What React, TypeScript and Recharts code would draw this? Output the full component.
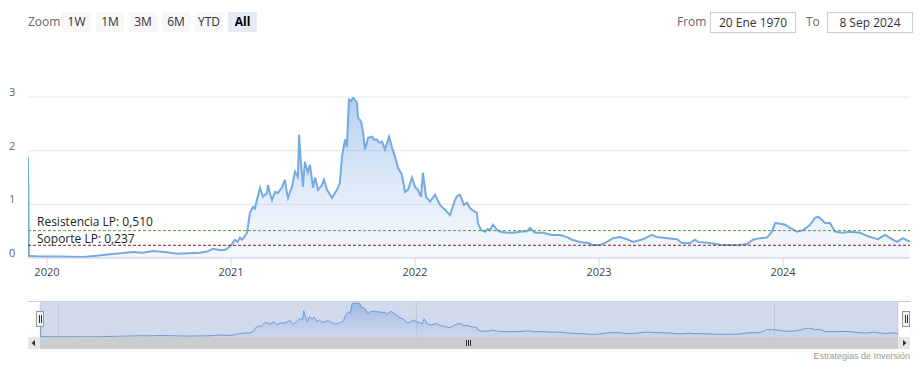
import React from "react";
import { AreaChart, Area, XAxis, YAxis, CartesianGrid, ReferenceLine } from "recharts";

const years = [
  2019.897, 2019.902, 2019.95, 2020.071, 2020.196, 2020.27, 2020.342, 2020.4, 2020.467, 2020.52,
  2020.576, 2020.64, 2020.707, 2020.77, 2020.832, 2020.87, 2020.902, 2020.94, 2020.967, 2020.99,
  2021.005, 2021.022, 2021.035, 2021.049, 2021.06, 2021.075, 2021.087, 2021.103, 2021.12, 2021.13,
  2021.141, 2021.158, 2021.166, 2021.174, 2021.196, 2021.201, 2021.212, 2021.223, 2021.239, 2021.255,
  2021.265, 2021.277, 2021.293, 2021.302, 2021.31, 2021.32, 2021.332, 2021.348, 2021.364, 2021.37,
  2021.38, 2021.391, 2021.402, 2021.418, 2021.429, 2021.446, 2021.457, 2021.473, 2021.495, 2021.505,
  2021.522, 2021.549, 2021.576, 2021.592, 2021.603, 2021.62, 2021.63, 2021.641, 2021.652, 2021.663,
  2021.674, 2021.685, 2021.69, 2021.707, 2021.717, 2021.728, 2021.745, 2021.766, 2021.78, 2021.793,
  2021.805, 2021.821, 2021.837, 2021.859, 2021.875, 2021.891, 2021.908, 2021.929, 2021.946, 2021.962,
  2021.984, 2022.0, 2022.016, 2022.033, 2022.043, 2022.06, 2022.082, 2022.109, 2022.136, 2022.163,
  2022.19, 2022.205, 2022.217, 2022.23, 2022.245, 2022.266, 2022.283, 2022.299, 2022.31, 2022.326,
  2022.337, 2022.342, 2022.359, 2022.38, 2022.395, 2022.408, 2022.424, 2022.446, 2022.462, 2022.5,
  2022.533, 2022.571, 2022.609, 2022.625, 2022.652, 2022.696, 2022.745, 2022.788, 2022.826, 2022.853,
  2022.897, 2022.94, 2022.967, 2023.005, 2023.043, 2023.076, 2023.114, 2023.152, 2023.185, 2023.239,
  2023.288, 2023.315, 2023.37, 2023.424, 2023.451, 2023.495, 2023.522, 2023.538, 2023.603, 2023.674,
  2023.75, 2023.804, 2023.837, 2023.875, 2023.913, 2023.94, 2023.957, 2023.984, 2024.011, 2024.038,
  2024.076, 2024.109, 2024.147, 2024.174, 2024.19, 2024.212, 2024.228, 2024.255, 2024.283, 2024.321,
  2024.364, 2024.418, 2024.473, 2024.516, 2024.554, 2024.592, 2024.62, 2024.652, 2024.69,
];

const prices = [
  1.88, 0.04, 0.03, 0.03, 0.02, 0.04, 0.07, 0.09, 0.11, 0.1,
  0.13, 0.11, 0.08, 0.09, 0.1, 0.12, 0.17, 0.15, 0.15, 0.2,
  0.26, 0.34, 0.3, 0.38, 0.34, 0.4, 0.47, 0.84, 0.95, 0.92,
  1.08, 1.31, 1.22, 1.14, 1.21, 1.36, 1.2, 1.08, 1.23, 1.21,
  1.26, 1.31, 1.46, 1.25, 1.12, 1.22, 1.33, 1.61, 1.51, 2.3,
  1.79, 1.33, 1.79, 1.59, 1.74, 1.31, 1.5, 1.27, 1.36, 1.46,
  1.27, 1.12, 1.27, 1.4, 1.89, 2.21, 2.07, 2.95, 2.92, 2.99,
  2.94, 2.9, 2.62, 2.54, 2.36, 2.02, 2.24, 2.26, 2.2, 2.21,
  2.15, 2.17, 2.02, 2.26, 2.06, 1.89, 1.68, 1.55, 1.23, 1.27,
  1.5, 1.33, 1.27, 1.14, 1.59, 1.14, 1.05, 1.18, 0.99, 0.9,
  0.8, 0.95, 1.08, 1.16, 1.18, 0.99, 1.03, 0.93, 0.9, 0.86,
  0.84, 0.65, 0.52, 0.49, 0.54, 0.52, 0.62, 0.52, 0.49, 0.47,
  0.47, 0.49, 0.5, 0.56, 0.47, 0.47, 0.43, 0.43, 0.39, 0.34,
  0.3, 0.28, 0.24, 0.24, 0.3, 0.37, 0.39, 0.35, 0.3, 0.35,
  0.43, 0.39, 0.37, 0.35, 0.28, 0.28, 0.34, 0.3, 0.28, 0.24,
  0.24, 0.26, 0.34, 0.37, 0.38, 0.49, 0.65, 0.64, 0.62, 0.56,
  0.49, 0.52, 0.62, 0.75, 0.77, 0.71, 0.65, 0.65, 0.49, 0.47,
  0.49, 0.47, 0.39, 0.35, 0.43, 0.35, 0.3, 0.37, 0.3,
];

const yearTicks = [2020, 2021, 2022, 2023, 2024];
const navTicks = [2020, 2022, 2024];
const priceTicks = [0, 1, 2, 3];
const resistance = 0.51;
const support = 0.237;
const resistanceLabel = "Resistencia LP: 0,510";
const supportLabel = "Soporte LP: 0,237";
const zoomButtons = ["1W", "1M", "3M", "6M", "YTD", "All"];
const fromDate = "20 Ene 1970";
const toDate = "8 Sep 2024";
const credit = "Estrategias de Inversión";

const data = years.map((t, i) => ({ t, v: prices[i] }));
const xDomain: [number, number] = [2019.897, 2024.69];

const FONT = "'Open Sans', 'DejaVu Sans', sans-serif";

const XTick = (props: any) => {
  const { x, y, payload } = props;
  return (
    <text x={x} y={y + 8} textAnchor="middle" fontSize={11} fill="#444" fontFamily={FONT}>
      {payload.value}
    </text>
  );
};

const YTick = (props: any) => {
  const { y, payload } = props;
  return (
    <text x={9} y={y - 1} textAnchor="start" fontSize={11} fill="#666" fontFamily={FONT}>
      {payload.value}
    </text>
  );
};

const NavTick = (props: any) => {
  const { x, y, payload } = props;
  return (
    <text x={x + 3} y={y - 5} textAnchor="start" fontSize={11} fill="#999" fontFamily={FONT}>
      {payload.value}
    </text>
  );
};

const refLabel = (text: string, dy: number) => (props: any) => {
  const vb = props.viewBox || {};
  return (
    <text x={(vb.x || 0) + 9} y={(vb.y || 0) + dy} fontSize={12} fill="#222" fontFamily={FONT}>
      {text}
    </text>
  );
};

const btnX = [62, 96, 129, 162, 195, 228];
const btnW = [29, 28, 28, 28, 28, 29];

export default function App() {
  return (
    <div style={{ position: "absolute", left: 0, top: 0, width: 924, height: 372, background: "#fff", overflow: "hidden", fontFamily: FONT }}>
      {/* toolbar */}
      <div style={{ position: "absolute", left: 28, top: 13, fontSize: 12, color: "#666", lineHeight: "18px" }}>Zoom</div>
      {zoomButtons.map((b, i) => (
        <div
          key={b}
          style={{
            position: "absolute",
            left: btnX[i],
            top: 12,
            width: btnW[i],
            height: 20,
            background: b === "All" ? "#e6ebf5" : "#f7f7f7",
            fontSize: 12,
            lineHeight: "20px",
            textAlign: "center",
            color: b === "All" ? "#000" : "#333",
            fontWeight: b === "All" ? 700 : 400,
          }}
        >
          {b}
        </div>
      ))}
      <div style={{ position: "absolute", left: 677, top: 13, fontSize: 12, color: "#666", lineHeight: "18px" }}>From</div>
      <div style={{ position: "absolute", left: 710, top: 12, width: 84, height: 19, border: "1px solid #ccc", fontSize: 12, lineHeight: "19px", textAlign: "center", color: "#333" }}>{fromDate}</div>
      <div style={{ position: "absolute", left: 806, top: 13, fontSize: 12, color: "#666", lineHeight: "18px" }}>To</div>
      <div style={{ position: "absolute", left: 827, top: 12, width: 84, height: 19, border: "1px solid #ccc", fontSize: 12, lineHeight: "19px", textAlign: "center", color: "#333" }}>{toDate}</div>

      {/* main chart */}
      <div style={{ position: "absolute", left: 0, top: 0 }}>
        <AreaChart width={924} height={290} data={data} margin={{ top: 97, right: 14, bottom: 0, left: 0 }}>
          <defs>
            <linearGradient id="mainFill" x1="0" y1="0" x2="0" y2="1">
              <stop offset="0%" stopColor="#5d97dc" stopOpacity={0.8} />
              <stop offset="100%" stopColor="#c5daf3" stopOpacity={0.3} />
            </linearGradient>
          </defs>
          <CartesianGrid horizontal vertical={false} stroke="#e6e6e6" />
          <XAxis
            dataKey="t"
            type="number"
            domain={xDomain}
            ticks={yearTicks}
            allowDataOverflow
            height={32}
            axisLine={{ stroke: "#ccd6eb" }}
            tickLine={{ stroke: "#ccd6eb" }}
            tickSize={8}
            tick={XTick}
            interval={0}
          />
          <YAxis domain={[0, 3]} ticks={priceTicks} width={28} axisLine={false} tickLine={false} tick={YTick} allowDataOverflow interval={0} />
          <Area
            type="linear"
            dataKey="v"
            stroke="#77aae0"
            strokeWidth={2}
            fill="url(#mainFill)"
            isAnimationActive={false}
            dot={false}
            activeDot={false}
          />
          <ReferenceLine y={resistance} stroke="#5e9a44" strokeDasharray="3 2" label={refLabel(resistanceLabel, -5)} />
          <ReferenceLine y={support} stroke="#8b1a1a" strokeDasharray="3 2" label={refLabel(supportLabel, -2)} />
        </AreaChart>
      </div>

      {/* navigator */}
      <div style={{ position: "absolute", left: 0, top: 301 }}>
        <AreaChart width={924} height={36} data={data} margin={{ top: 0, right: 26, bottom: 0, left: 40 }}>
          <defs>
            <linearGradient id="navFill" x1="0" y1="0" x2="0" y2="1">
              <stop offset="0%" stopColor="#5d97dc" stopOpacity={0.8} />
              <stop offset="100%" stopColor="#c5daf3" stopOpacity={0.25} />
            </linearGradient>
          </defs>
          <CartesianGrid horizontal={false} vertical stroke="#e6e6e6" />
          <XAxis dataKey="t" type="number" domain={xDomain} ticks={navTicks} allowDataOverflow height={0} axisLine={false} tickLine={false} tick={NavTick} interval={0} />
          <YAxis hide domain={[0, 3.15]} allowDataOverflow />
          <Area type="linear" dataKey="v" stroke="#6fa3e0" strokeWidth={1} fill="url(#navFill)" isAnimationActive={false} dot={false} activeDot={false} />
        </AreaChart>
      </div>

      {/* navigator mask, outline, handles, scrollbar */}
      <svg width={924} height={372} style={{ position: "absolute", left: 0, top: 0, pointerEvents: "none" }}>
        <rect x={40} y={301} width={858} height={36} fill="rgba(102,133,194,0.3)" />
        <path d="M28.5 301.5 H910.5" stroke="#cccccc" strokeWidth={1} />
        <g>
          <rect x={36.5} y={311.5} width={7} height={15} fill="#f2f2f2" stroke="#999" />
          <path d="M39.5 315 V323 M41.5 315 V323" stroke="#333" strokeWidth={1} />
          <rect x={902.5} y={311.5} width={7} height={15} fill="#f2f2f2" stroke="#999" />
          <path d="M905.5 315 V323 M907.5 315 V323" stroke="#333" strokeWidth={1} />
        </g>
        <rect x={28} y={337} width={882} height={12} fill="#f2f2f2" />
        <rect x={40} y={337} width={858} height={12} fill="#cccccc" />
        <rect x={28} y={337} width={12} height={12} fill="#e6e6e6" />
        <rect x={898} y={337} width={12} height={12} fill="#e6e6e6" />
        <path d="M35 340 L31.5 343 L35 346 Z" fill="#333" />
        <path d="M903 340 L906.5 343 L903 346 Z" fill="#333" />
        <path d="M466.5 340 V346 M468.5 340 V346 M470.5 340 V346" stroke="#333" strokeWidth={1} />
        <text x={910} y={359} textAnchor="end" fontSize={9} fill="#999" fontFamily="'Liberation Sans Narrow', 'Liberation Sans', sans-serif">
          {credit}
        </text>
      </svg>
    </div>
  );
}
